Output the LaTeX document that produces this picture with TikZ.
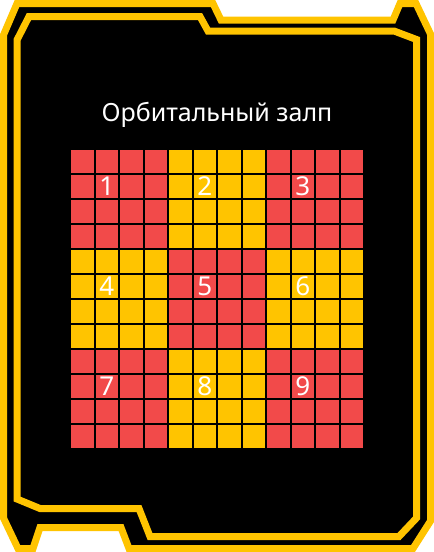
\documentclass[tikz,border=0pt]{standalone}
\usepackage{fontspec}
\setmainfont{Noto Sans}
\usepackage{xcolor}
\definecolor{frameyellow}{HTML}{FFC400}
\definecolor{cellred}{HTML}{F24A4A}

\begin{document}
\begin{tikzpicture}[x=1pt,y=-1pt,
 frameline/.style={draw=frameyellow,line width=7pt,line join=miter},
 cell/.style={minimum width=22.5pt,minimum height=23pt,inner sep=0pt,anchor=north west},
 num/.style={text=white,font=\fontsize{26}{26}\selectfont,inner sep=0pt}]
    \useasboundingbox (0,0) rectangle (434,552);
    \fill[white] (0,0) rectangle (434,552);
    % outer frame
    \filldraw[frameline,fill=black] (3.5,35) -- (17,3.5) -- (213,3.5) -- (221,20)
      -- (393,20) -- (400,3.5) -- (416,3.5) -- (430.5,34) -- (430.5,521)
      -- (413,548.5) -- (129,548.5) -- (121,527.5) -- (40,527.5) -- (33,548.5)
      -- (18,548.5) -- (3.5,518) -- cycle;
    % inner frame
    \draw[frameline] (17,40) -- (29,16.5) -- (200,16.5) -- (208,31)
      -- (394,31) -- (416.5,39.5) -- (416.5,518) -- (399,536.5) -- (150,536.5)
      -- (139,508.5) -- (40,508.5) -- (17,499) -- cycle;
    \node[text=white,font=\fontsize{25}{25}\selectfont,anchor=base] (title)
      at (217,121.5) {Орбитальный залп};
    % grid of 12x12 cells, 3x3 blocks
    \foreach \i in {0,...,11}{
      \foreach \j in {0,...,11}{
        \pgfmathtruncatemacro\blk{mod(floor(\i/4)+floor(\j/4),2)}
        \ifnum\blk=0 \def\cc{cellred}\else\def\cc{frameyellow}\fi
        \node[cell,fill=\cc] (c-\i-\j) at (71+24.5*\i,150+25*\j) {};
      }
    }
    \foreach \bi in {0,1,2}{
      \foreach \bj in {0,1,2}{
        \pgfmathtruncatemacro\n{3*\bj+\bi+1}
        \node[num] (n\n) at (82.25+24.5*4*\bi+24.5,161.5+25*4*\bj+25) {\n};
      }
    }
\end{tikzpicture}
\end{document}
